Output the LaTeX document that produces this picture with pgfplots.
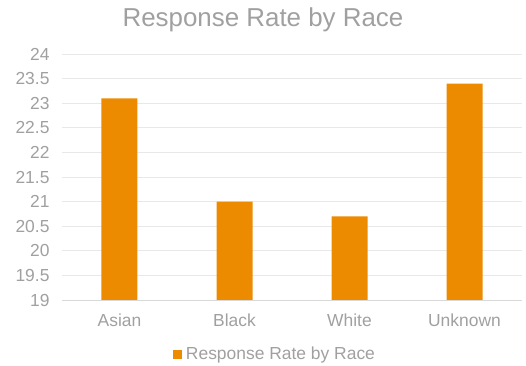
\documentclass[border=0pt]{standalone}
\usepackage{pgfplots}
\pgfplotsset{compat=1.18}
\usepackage{fontspec}
\setmainfont{Liberation Sans}
\definecolor{barc}{RGB}{237,139,0}
\definecolor{txt}{RGB}{160,160,160}
\definecolor{gridc}{RGB}{232,232,232}
\definecolor{axl}{RGB}{217,217,217}
\begin{document}
\begin{tikzpicture}
\useasboundingbox (-62bp,-66bp) rectangle (464bp,300bp);
\begin{axis}[
  at={(0,0)}, anchor=south west,
  scale only axis, width=460bp, height=246bp,
  ymin=19, ymax=24, xmin=-0.5, xmax=3.5,
  ytick={19,19.5,...,24},
  xtick=data, xticklabels={Asian,Black,White,Unknown},
  /pgf/number format/assume math mode=true,
  /pgf/number format/fixed,
  ymajorgrids, xmajorgrids=false, major grid style={draw=gridc, line width=0.8pt},
  major tick length=0,
  axis line style={draw=none},
  axis x line*=bottom, axis y line*=left,
  tick label style={font=\fontsize{17.5}{19}\selectfont, text=txt},
  yticklabel style={xshift=-9bp},
  xticklabel style={yshift=-10bp},
  legend style={at={(0.463,-0.22)}, anchor=center, draw=none, fill=none,
    font=\fontsize{17.5}{19}\selectfont, text=txt, inner sep=0pt},
  legend image code/.code={\fill[barc] (0bp,-4.5bp) rectangle (9bp,4.5bp);},
  legend cell align=left,
  clip=false,
]
\addplot[ybar, bar width=36bp, fill=barc, draw=none] coordinates {(0,23.1) (1,21.0) (2,20.7) (3,23.4)};
\addlegendentry{\hspace{2bp}Response Rate by Race}
\draw[axl, line width=0.8pt] (axis cs:-0.5,19) -- (axis cs:3.5,19);
\end{axis}
\node[text=txt, font=\fontsize{26}{30}\selectfont] at (201bp,280bp) {Response Rate by Race};
\end{tikzpicture}
\end{document}
